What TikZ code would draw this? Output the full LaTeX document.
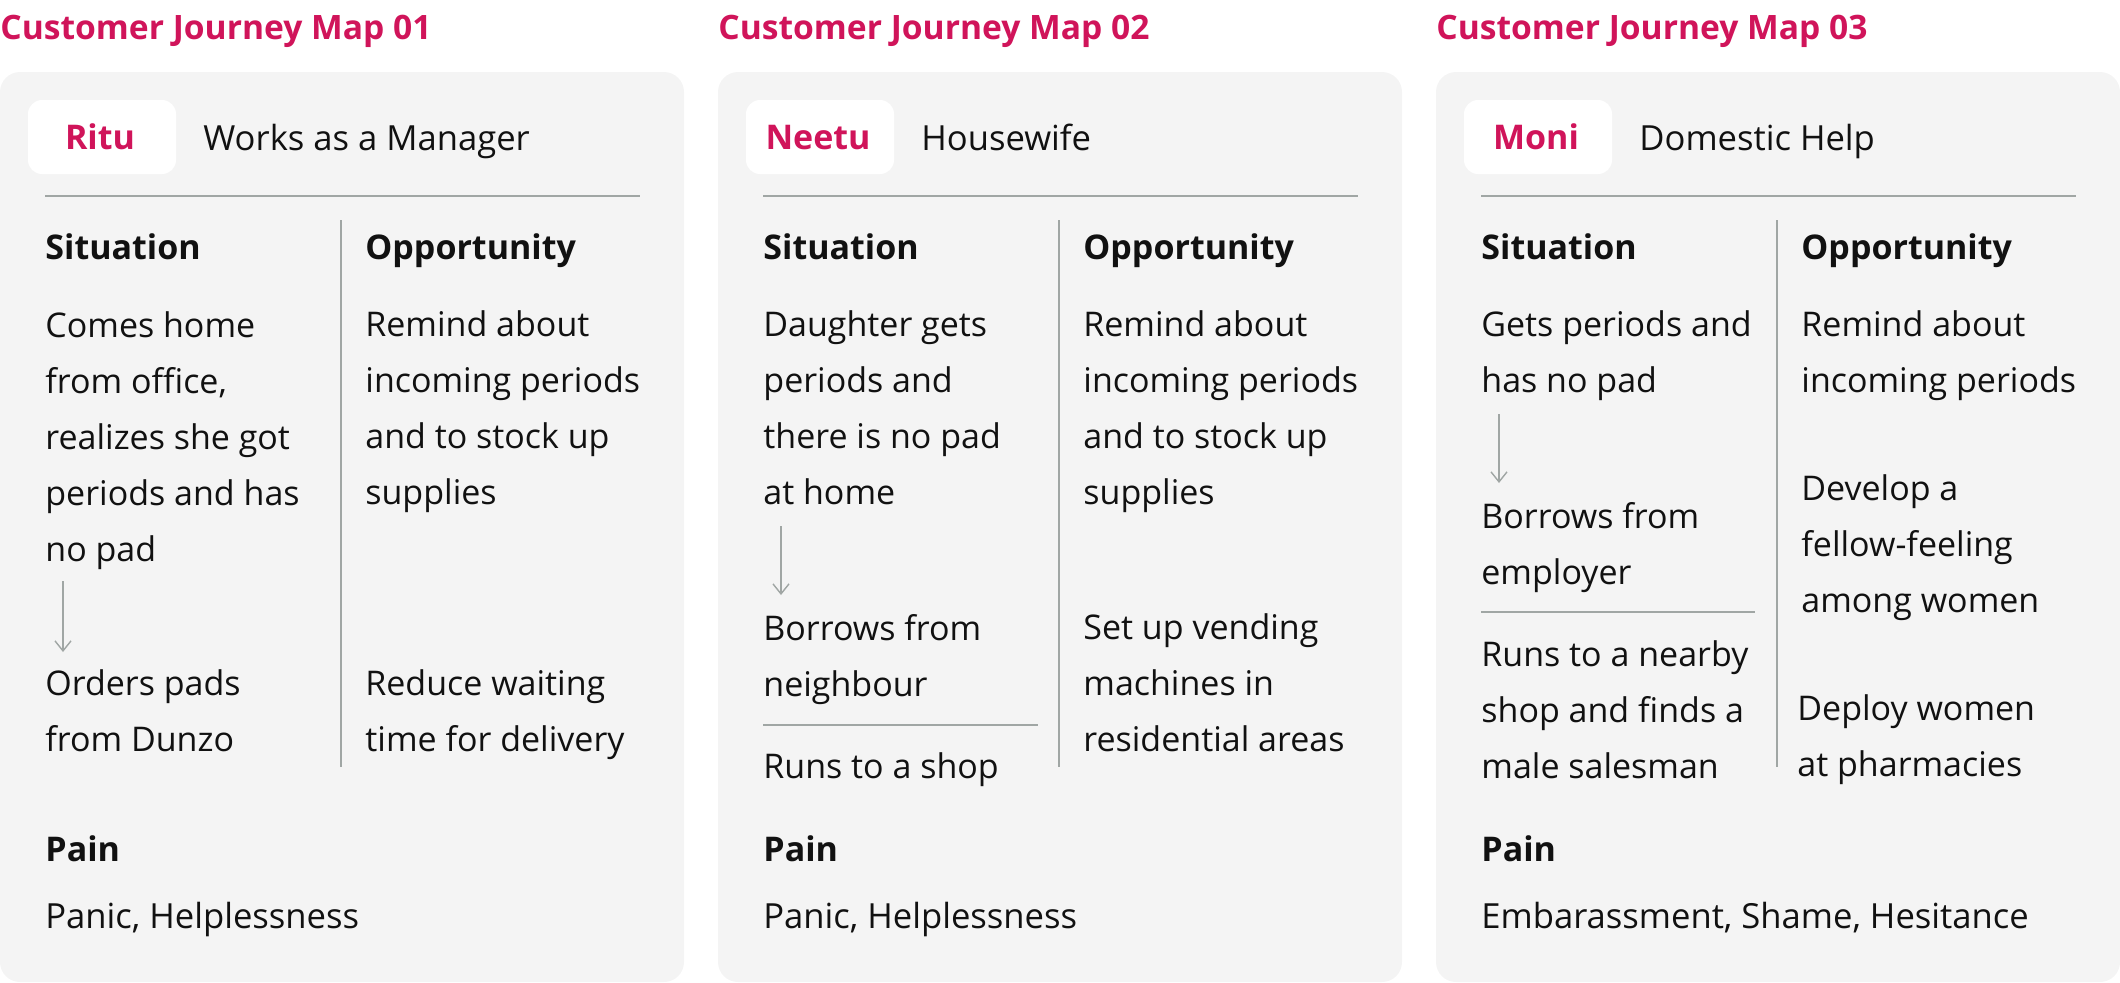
\documentclass[tikz,border=0pt]{standalone}
\usepackage{fontspec}
\setmainfont{Open Sans}
\usetikzlibrary{arrows.meta}
\definecolor{jpink}{RGB}{208,20,90}
\definecolor{jcard}{RGB}{244,244,244}
\definecolor{jrule}{RGB}{160,166,164}
\definecolor{jtext}{RGB}{17,17,17}
\tikzset{
  maptitle/.style={anchor=base west, inner sep=0, text=jpink,
    font=\fontsize{16.8}{20}\selectfont\bfseries},
  card/.style={fill=jcard, rounded corners=10pt},
  pill/.style={fill=white, rounded corners=7pt},
  who/.style={anchor=base, inner sep=0, text=jpink, font=\fontsize{17}{20}\selectfont\bfseries},
  role/.style={anchor=base west, inner sep=0, text=jtext, font=\fontsize{17.3}{20}\selectfont},
  head/.style={anchor=base west, inner sep=0, text=jtext, font=\fontsize{17}{20}\selectfont\bfseries},
  % base west of a multi-line node = baseline of its last line
  body/.style={anchor=base west, inner sep=0, align=left, text=jtext,
    font=\fontsize{17}{28}\selectfont},
  rule/.style={draw=jrule, line width=1pt},
  flow/.style={draw=jrule, line width=0.7pt, -{Straight Barb[length=5pt, width=8pt]}}
}
\begin{document}
\begin{tikzpicture}[x=0.5pt, y=-0.5pt]
\useasboundingbox (0,0) rectangle (2120,982);
% card 01
\node [maptitle] (t1) at (0,39) {Customer Journey Map 01};
\fill [card] (0,72) rectangle (684,982);
\fill [pill] (28,100) rectangle (176,174);
\node [who] (n1) at (100,149) {Ritu};
\node [role] (r1) at (203,150) {Works as a Manager};
\draw [rule] (45,196) -- (640,196);
\draw [rule] (341,220) -- (341,767);
\node [head] (s1) at (45,259) {Situation};
\node [head] (o1) at (365,259) {Opportunity};
\node [body] (sa1) at (45,561) {Comes home\\from office,\\realizes she got\\periods and has\\no pad};
\coordinate (a1s) at (63,581);
\coordinate (a1e) at (63,652);
\draw [flow] (a1s) -- (a1e);
\node [body] (sb1) at (45,751) {Orders pads\\from Dunzo};
\node [body] (oa1) at (365,504) {Remind about\\incoming periods\\and to stock up\\supplies};
\node [body] (ob1) at (365,751) {Reduce waiting\\time for delivery};
\node [head] (pa1) at (45,861) {Pain};
\node [role] (pt1) at (45,928) {Panic, Helplessness};
% card 02
\begin{scope}[xshift=359pt]
\node [maptitle] (t2) at (0,39) {Customer Journey Map 02};
\fill [card] (0,72) rectangle (684,982);
\fill [pill] (28,100) rectangle (176,174);
\node [who] (n2) at (100,149) {Neetu};
\node [role] (r2) at (203,150) {Housewife};
\draw [rule] (45,196) -- (640,196);
\draw [rule] (341,220) -- (341,767);
\node [head] (s2) at (45,259) {Situation};
\node [head] (o2) at (365,259) {Opportunity};
\node [body] (sa2) at (45,504) {Daughter gets\\periods and\\there is no pad\\at home};
\coordinate (a2s) at (63,526);
\coordinate (a2e) at (63,595);
\draw [flow] (a2s) -- (a2e);
\node [body] (sb2) at (45,696) {Borrows from\\neighbour};
\draw [rule] (45,725) -- (320,725);
\node [body] (sc2) at (45,778) {Runs to a shop};
\node [body] (oa2) at (365,504) {Remind about\\incoming periods\\and to stock up\\supplies};
\node [body] (ob2) at (365,751) {Set up vending\\machines in\\residential areas};
\node [head] (pa2) at (45,861) {Pain};
\node [role] (pt2) at (45,928) {Panic, Helplessness};
\end{scope}
% card 03
\begin{scope}[xshift=718pt]
\node [maptitle] (t3) at (0,39) {Customer Journey Map 03};
\fill [card] (0,72) rectangle (684,982);
\fill [pill] (28,100) rectangle (176,174);
\node [who] (n3) at (100,149) {Moni};
\node [role] (r3) at (203,150) {Domestic Help};
\draw [rule] (45,196) -- (640,196);
\draw [rule] (341,220) -- (341,767);
\node [head] (s3) at (45,259) {Situation};
\node [head] (o3) at (365,259) {Opportunity};
\node [body] (sa3) at (45,392) {Gets periods and\\has no pad};
\coordinate (a3s) at (63,414);
\coordinate (a3e) at (63,483);
\draw [flow] (a3s) -- (a3e);
\node [body] (sb3) at (45,584) {Borrows from\\employer};
\draw [rule] (45,612) -- (319,612);
\node [body] (sc3) at (45,778) {Runs to a nearby\\shop and finds a\\male salesman};
\node [body] (oa3) at (365,392) {Remind about\\incoming periods};
\node [body] (ob3) at (365,612) {Develop a\\fellow-feeling\\among women};
\node [body] (oc3) at (361,776) {Deploy women\\at pharmacies};
\node [head] (pa3) at (45,861) {Pain};
\node [role] (pt3) at (45,928) {Embarassment, Shame, Hesitance};
\end{scope}
\end{tikzpicture}
\end{document}
